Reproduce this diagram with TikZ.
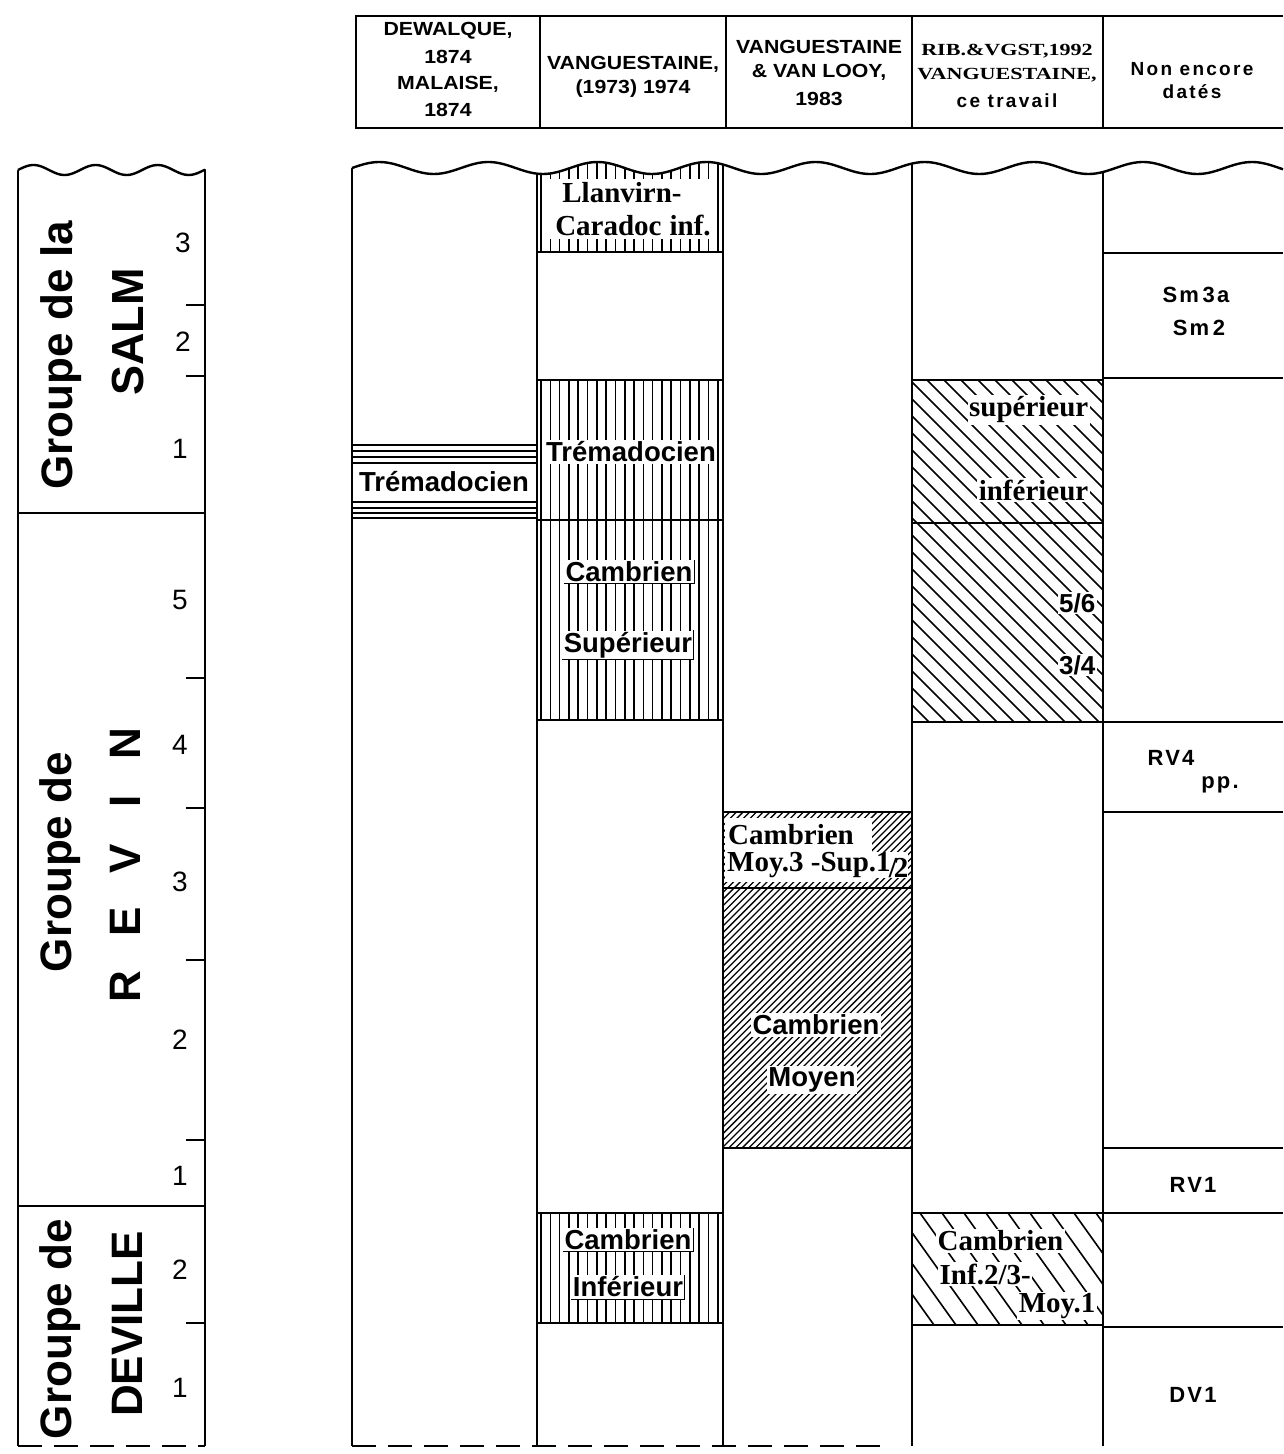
\documentclass[tikz,border=0pt]{standalone}
\usepackage{fontspec}
\setmainfont{Liberation Serif}
\newfontfamily\hv{Liberation Sans}
\newfontfamily\hvw[FakeStretch=1.12]{Liberation Sans}
\newfontfamily\hvsp[LetterSpace=10]{Liberation Sans}
\newfontfamily\hvspw[LetterSpace=12]{Liberation Sans}
\newfontfamily\tmw[FakeStretch=1.3]{Liberation Serif}
\newfontfamily\tm{Liberation Serif}
\tikzset{
 frame/.style={line width=2.4pt},
 hl/.style={line width=1.6pt},
 thinl/.style={line width=1.3pt},
 lab/.style={fill=white, inner sep=1.5pt},
 ul/.style={line width=0.8pt},
 sb/.style={font=\hv\bfseries\fontsize{27.5}{30}\selectfont},
 tb/.style={font=\tm\bfseries\fontsize{29}{31}\selectfont},
 num/.style={font=\hv\fontsize{28}{30}\selectfont},
 grp/.style={font=\hv\bfseries\fontsize{44}{48}\selectfont, rotate=90, inner sep=0pt},
 hd/.style={font=\hvw\bfseries\fontsize{19}{25}\selectfont, inner sep=0pt},
 hdt/.style={font=\tmw\bfseries\fontsize{17}{25}\selectfont, inner sep=0pt},
 hds/.style={font=\hvspw\bfseries\fontsize{19}{25}\selectfont, inner sep=0pt},
 nd/.style={font=\hvsp\bfseries\fontsize{22}{24}\selectfont, inner sep=0pt},
}
\begin{document}
\begin{tikzpicture}[x=1pt,y=-1pt]
\useasboundingbox (0,0) rectangle (1283,1454);
\fill[white] (0,0) rectangle (1283,1454);

% ---------- header ----------
\draw[frame] (1283,16) -- (356,16) -- (356,128) -- (1283,128);
\foreach \xx in {540,726,912,1103} \draw[frame] (\xx,16) -- (\xx,128);
\node[hd] (h1a) at (448,31) {DEWALQUE,};
\node[hd] (h1b) at (448,57) {1874};
\node[hd] (h1c) at (448,84) {MALAISE,};
\node[hd] (h1d) at (448,110) {1874};
\node[hd] (h2a) at (633,64) {VANGUESTAINE,};
\node[hd] (h2b) at (633,89) {(1973) 1974};
\node[hd] (h3a) at (819,47) {VANGUESTAINE};
\node[hd] (h3b) at (819,72) {\& VAN LOOY,};
\node[hd] (h3c) at (819,99) {1983};
\node[hdt] (h4a) at (1007,51) {RIB.\&VGST,1992};
\node[hdt] (h4b) at (1007,75) {VANGUESTAINE,};
\node[hds] (h4c) at (1007,101) {ce travail};
\node[hds] (h5a) at (1192,69) {Non encore};
\node[hds] (h5b) at (1192,92) {datés};

% ---------- left scale column ----------
\begin{scope}
\clip plot[domain=10:215,samples=80] (\x,{170-5*sin((\x-18)*5.8)}) -- (215,1460) -- (10,1460) -- cycle;
\draw[frame] (18,150) -- (18,1446);
\draw[frame] (205,150) -- (205,1446);
\end{scope}
\draw[frame] plot[domain=18:205,samples=80] (\x,{170-5*sin((\x-18)*5.8)});
\draw[frame] (18,513) -- (205,513);
\draw[frame] (18,1206) -- (205,1206);
\foreach \t in {305,376,678,808,960,1140,1323} \draw[frame] (186,\t) -- (205,\t);
\draw[frame, dash pattern=on 24pt off 12pt] (18,1446) -- (205,1446);

\node[grp] (gs1) at (61,355) {Groupe de la};
\node[grp, font=\hv\bfseries\fontsize{45}{48}\selectfont] (gs2) at (128,332) {SALM};
\node[grp] (gr1) at (60,862) {Groupe de};
\node[grp] (gr2) at (125,865) {R\hspace{34pt}E\hspace{34pt}V\hspace{36pt}I\hspace{36pt}N};
\node[grp] (gd1) at (60,1329) {Groupe de};
\node[grp] (gd2) at (127,1324) {DEVILLE};

\node[num] (s3) at (183,243) {3};
\node[num] (s2) at (183,342) {2};
\node[num] (s1) at (180,449) {1};
\node[num] (r5) at (180,600) {5};
\node[num] (r4) at (180,745) {4};
\node[num] (r3) at (180,882) {3};
\node[num] (r2) at (180,1040) {2};
\node[num] (r1) at (180,1176) {1};
\node[num] (d2) at (180,1270) {2};
\node[num] (d1) at (180,1388) {1};

% ---------- main body ----------
\begin{scope}
\clip plot[domain=340:1290,samples=250] (\x,{168-6*sin((\x-352)*3.3)}) -- (1290,1460) -- (340,1460) -- cycle;
 % col 1 horizontal hatching
 \foreach \yy in {445,451,457,463,502,508,513} \draw[hl] (352,\yy) -- (537,\yy);
 \draw[frame] (352,518) -- (537,518);
 % col 2 vertical hatching
 \begin{scope}
  \clip (537,100) rectangle (723,252) (537,380) rectangle (723,720) (537,1213) rectangle (723,1323);
  \foreach \i in {0,...,19} \draw[hl] ({541+\i*9.3},100) -- ({541+\i*9.3},1330);
 \end{scope}
 % col 3 dense "/" hatching
 \begin{scope}
  \clip (723,812) rectangle (912,1148);
  \foreach \i in {0,...,80} \draw[thinl] ({387+\i*6.7},1148) -- ++(400,-400);
 \end{scope}
 % col 4 "\" hatching
 \begin{scope}
  \clip (912,380) rectangle (1103,722);
  \foreach \i in {0,...,32} \draw[hl] ({570+\i*17},380) -- ++(360,360);
 \end{scope}
 \begin{scope}
  \clip (912,1213) rectangle (1103,1325);
  \foreach \i in {0,...,13} \draw[hl] ({832+\i*22},1213) -- ++(100,140);
 \end{scope}

 % white label areas and labels
 \node[sb,lab] (t1) at (444,482) {Trémadocien};
 \fill[white] (549,179) rectangle (713,239);
 \node[tb] (ll1) at (622,193) {Llanvirn-};
 \node[tb] (ll2) at (633,225) {Caradoc\hspace{8pt}inf.};
 \node[sb,lab] (t2) at (631,452) {Trémadocien};
 \node[sb,lab] (cs1) at (629,572) {Cambrien};
 \node[sb,lab] (cs2) at (628,645) {Supérieur};
 \node[sb,lab] (ci1) at (628,1240) {Cambrien};
 \node[sb,lab] (ci2) at (628,1287) {Inférieur};
 \foreach \n in {cs1,cs2,ci1,ci2} \draw[ul] (\n.south west) -- (\n.south east) -- (\n.north east);

 \fill[white] (725,818) rectangle (872,882);
 \node[tb, anchor=west, inner sep=0pt] (cm1) at (728,835) {Cambrien};
 \node[tb, anchor=west, fill=white, inner sep=0pt] (cm2) at (727,865) {Moy.3 -Sup.1\kern-2pt\raisebox{-6pt}{/\kern-3pt2}};
 \node[sb,lab] (cmo1) at (816,1025) {Cambrien};
 \node[sb,lab] (cmo2) at (812,1080) {Moyen};

 \node[tb, lab, anchor=east] (su) at (1090,410) {supérieur};
 \node[tb, lab, anchor=east] (inf) at (1090,490) {inférieur};
 \node[sb, lab, anchor=east, font=\hv\bfseries\fontsize{26}{28}\selectfont] (f56) at (1097,603) {5/6};
 \node[sb, lab, anchor=east, font=\hv\bfseries\fontsize{26}{28}\selectfont] (f34) at (1097,665) {3/4};

 \node[tb, lab, anchor=west] (ca1) at (936,1241) {Cambrien};
 \node[tb, lab, anchor=west] (ca2) at (938,1274) {Inf.2/3-};
 \node[tb, lab, anchor=east] (ca3) at (1097,1306) {Moy.1};

 % boundaries
 \foreach \yy in {252,380,520,720,1213,1323} \draw[frame] (537,\yy) -- (723,\yy);
 \draw[thinl] (723,812) -- (912,812);
 \draw[thinl] (723,888) -- (912,888);
 \draw[frame] (723,1148) -- (912,1148);
 \foreach \yy in {380,523,722,1213,1325} \draw[frame] (912,\yy) -- (1103,\yy);
 \foreach \yy in {253,378,722,812,1148,1213,1327} \draw[frame] (1103,\yy) -- (1283,\yy);
 \foreach \xx in {352,537,723,912,1103} \draw[frame] (\xx,140) -- (\xx,1446);
\end{scope}
\draw[frame] plot[domain=352:1283,samples=250] (\x,{168-6*sin((\x-352)*3.3)});
\draw[frame, dash pattern=on 24pt off 12pt] (352,1446) -- (880,1446);

% column 5 labels
\node[nd] (sm3) at (1196,295) {Sm\,3a};
\node[nd] (sm2) at (1199,328) {Sm\,2};
\node[nd] (rv4) at (1171,758) {RV4};
\node[nd] (pp) at (1220,785) {pp.};
\node[nd] (rv1) at (1193,1185) {RV1};
\node[nd] (dv1) at (1193,1395) {DV1};
\end{tikzpicture}
\end{document}
